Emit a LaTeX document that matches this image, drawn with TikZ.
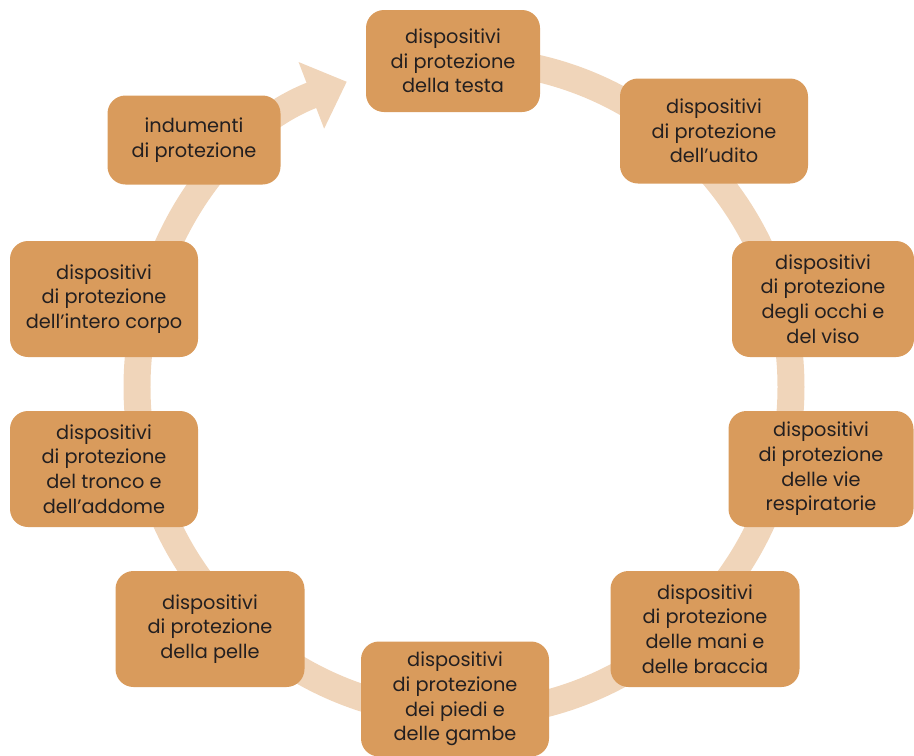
\documentclass[tikz,border=0pt]{standalone}
\usepackage{fontspec}
\setmainfont{Poppins}
\usepackage{xcolor}
\usetikzlibrary{arrows.meta}

\definecolor{boxfill}{HTML}{D99B5C}
\definecolor{ringcol}{HTML}{F0D5BA}
\definecolor{txtcol}{HTML}{231F20}

\tikzset{
    dpibox/.style={draw=none, fill=boxfill, rounded corners=0.36cm, align=center,
        text=txtcol, font=\fontsize{11}{14}\selectfont, inner sep=0pt},
    ring/.style={draw=ringcol, line width=0.54cm}
}

\begin{document}
\begin{tikzpicture}[x=0.02cm, y=-0.02cm]
    \useasboundingbox (0,0) rectangle (914,755);
    \coordinate (c) at (464,387);
    % ring with arrow head, clockwise from the top
    \draw[ring, -{Triangle[length=0.76cm, width=1.38cm]}]
        (c) ++(270:327) arc[start angle=270, end angle=609, radius=327];
    % boxes: name/x/y/width/height/text
    \foreach \n/\x/\y/\w/\h/\txt in {
        testa/453/61/174/102/{dispositivi\\di protezione\\della testa},
        udito/714/131/188/105/{dispositivi\\di protezione\\dell’udito},
        occhi/823/299/182/116/{dispositivi\\di protezione\\degli occhi e\\del viso},
        vie/821/469/185/116/{dispositivi\\di protezione\\delle vie\\respiratorie},
        mani/705/629/189/116/{dispositivi\\di protezione\\delle mani e\\delle braccia},
        piedi/455/699/188/115/{dispositivi\\di protezione\\dei piedi e\\delle gambe},
        pelle/210/629/189/116/{dispositivi\\di protezione\\della pelle},
        tronco/104/469/188/116/{dispositivi\\di protezione\\del tronco e\\dell’addome},
        corpo/104/299/188/116/{dispositivi\\di protezione\\dell’intero corpo},
        indumenti/194/140/173/89/{indumenti\\di protezione}}
        \node[dpibox, minimum width=\w*0.02cm, minimum height=\h*0.02cm] (\n) at (\x,\y) {\txt};
\end{tikzpicture}
\end{document}
